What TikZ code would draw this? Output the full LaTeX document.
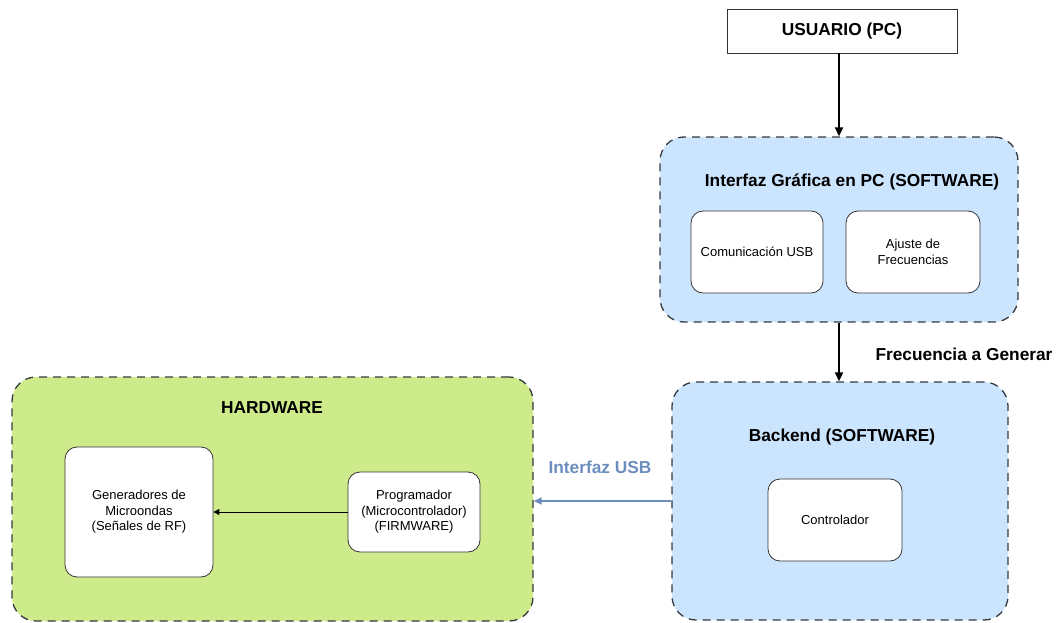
\documentclass[tikz,border=0pt]{standalone}
\usepackage{fontspec}
\setmainfont{Liberation Sans}
\usetikzlibrary{arrows.meta}
\definecolor{swblue}{HTML}{CCE5FF}
\definecolor{hwgreen}{HTML}{CDEB8B}
\definecolor{dashgray}{HTML}{36393D}
\definecolor{usbblue}{HTML}{6C8EBF}
\tikzset{
  group/.style={draw=dashgray, line width=1.3pt, dash pattern=on 8pt off 6pt, rounded corners=24pt},
  inner/.style={draw=black!80, line width=0.8pt, fill=white, rounded corners=12pt, align=center, font=\fontsize{13}{15.5}\selectfont},
  title/.style={font=\bfseries\fontsize{17.3}{19}\selectfont},
  conn/.style={-{Triangle[length=9pt,width=8pt]}, line width=1.8pt},
}
\begin{document}
\begin{tikzpicture}[x=1pt,y=-1pt]
\useasboundingbox (0,0) rectangle (1059,623);
% USUARIO
\node[draw=black!80, line width=0.8pt, minimum width=230pt, minimum height=44pt, title, inner sep=0pt] (user) at (842,31) {USUARIO (PC)};
% Interfaz group
\node[group, fill=swblue, minimum width=358pt, minimum height=185pt] (gui) at (839,229.5) {};
\node[title] (guit) at (852,182) {Interfaz Gráfica en PC (SOFTWARE)};
\node[inner, minimum width=132pt, minimum height=82pt] (usbcom) at (757,252) {Comunicación USB};
\node[inner, minimum width=134pt, minimum height=82pt] (ajuste) at (913,252) {Ajuste de\\Frecuencias};
% Backend group
\node[group, fill=swblue, minimum width=336pt, minimum height=238pt] (back) at (840,501) {};
\node[title] (backt) at (842,437) {Backend (SOFTWARE)};
\node[inner, minimum width=134pt, minimum height=82pt] (ctrl) at (835,520) {Controlador};
% Hardware group
\node[group, fill=hwgreen, minimum width=521pt, minimum height=244pt] (hw) at (272.5,499) {};
\node[title] (hwt) at (272,408) {HARDWARE};
\node[inner, minimum width=148pt, minimum height=130pt] (gen) at (139,512) {Generadores de\\Microondas\\(Señales de RF)};
\node[inner, minimum width=132pt, minimum height=80pt] (prog) at (414,512) {Programador\\(Microcontrolador)\\(FIRMWARE)};
% connectors
\draw[conn] (user.south -| gui.north) -- (gui.north);
\draw[conn] (gui.south) -- (gui.south |- back.north);
\node[title, anchor=west] (freq) at (872,354) {Frecuencia a Generar};
\draw[-{Triangle[length=8pt,width=7pt]}, line width=1.4pt, usbblue] (back.west) -- (back.west -| hw.east);
\node[title, text=usbblue] (usbl) at (600,467) {Interfaz USB};
\draw[-{Triangle[length=6pt,width=6pt]}, line width=1pt] (prog.west) -- (gen.east);
\end{tikzpicture}
\end{document}
